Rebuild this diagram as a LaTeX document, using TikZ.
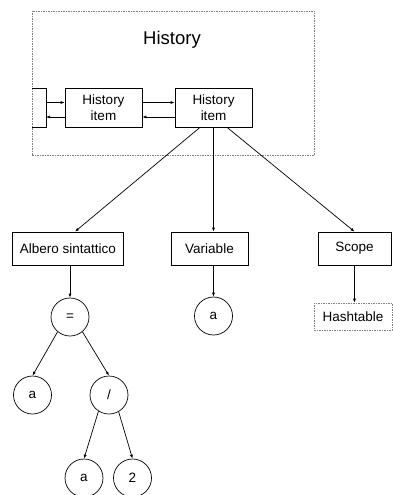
\documentclass[tikz,border=0pt]{standalone}
\usepackage{fontspec}
\setmainfont{Liberation Sans}
\usetikzlibrary{arrows.meta}

\begin{document}
\begin{tikzpicture}[x=1pt, y=-1pt,
		box/.style={draw, rectangle, inner sep=0pt, align=center, font=\fontsize{13.5}{16}\selectfont},
		nodo/.style={draw, circle, minimum size=38pt, inner sep=0pt, font=\fontsize{13.5}{16}\selectfont},
		tratteggio/.style={draw=gray, dash pattern=on 1.5pt off 1pt},
		freccia/.style={-{Latex[length=4pt, width=3pt]}},
		every path/.style={line width=0.7pt}
	]
		\useasboundingbox (0,0) rectangle (392,495);
		% history
		\node[tratteggio, minimum width=282pt, minimum height=144pt] (storia) at (173,83) {};
		\node[font=\fontsize{18.5}{20}\selectfont] (titolo) at (172,40) {History};
		\draw (32,88) -- (46,88) -- (46,127) -- (32,127);
		\coordinate (precA) at (46,102.5);
		\coordinate (precB) at (46,117);
		\node[box, minimum width=77pt, minimum height=39pt] (item1) at (103.5,107.5) {History\\item};
		\node[box, minimum width=77pt, minimum height=39pt] (item2) at (213.5,107.5) {History\\item};
		\draw[freccia] (precA) -- (item1.west |- precA);
		\draw[freccia] (item1.west |- precB) -- (precB);
		\draw[freccia] (item1.east |- precA) -- (item2.west |- precA);
		\draw[freccia] (item2.west |- precB) -- (item1.east |- precB);
		% contenuto
		\node[box, minimum width=111pt, minimum height=33pt] (albero) at (68,248.5) {Albero sintattico};
		\node[box, minimum width=77pt, minimum height=33pt] (variabile) at (209.5,248.5) {Variable};
		\node[box, minimum width=73pt, minimum height=33pt] (scope) at (354.5,248.5) {Scope};
		\draw[freccia] ([xshift=-13.5pt]item2.south) -- ([xshift=7pt]albero.north);
		\draw[freccia] (item2.south) -- (variabile.north -| item2.south);
		\draw[freccia] ([xshift=13.5pt]item2.south) -- (scope.north);
		% albero
		\node[nodo] (uguale) at (70,317) {=};
		\node[nodo] (a1) at (32.5,395) {a};
		\node[nodo] (barra) at (109,395) {/};
		\node[nodo] (a2) at (84,478) {a};
		\node[nodo] (due) at (132.5,478) {2};
		\draw[freccia] (albero.south -| uguale) -- (uguale);
		\draw[freccia] (uguale.230) -- (a1.north);
		\draw[freccia] (uguale.310) -- (barra.north);
		\draw[freccia] (barra.237) -- (a2.north);
		\draw[freccia] (barra.300) -- (due.north);
		% variabile e scope
		\node[nodo] (varA) at (213.5,316) {a};
		\node[box, tratteggio, minimum width=78pt, minimum height=27pt] (hash) at (353,316.5) {Hashtable};
		\draw[freccia] (variabile.south -| varA) -- (varA);
		\draw[freccia] (scope.south) -- (scope.south |- hash.north);
	\end{tikzpicture}
\end{document}
